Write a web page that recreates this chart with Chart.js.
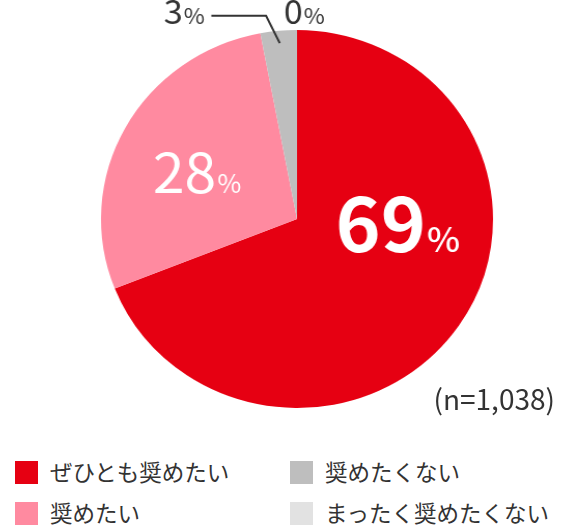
<!DOCTYPE html>
<html lang="ja">
<head>
<meta charset="utf-8">
<title>推奨意向</title>
<script src="https://cdn.jsdelivr.net/npm/chart.js@4/dist/chart.umd.min.js"></script>
<style>
    html, body {
        margin: 0;
        padding: 0;
        background: #fff;
        width: 570px;
        height: 526px;
        overflow: hidden;
        font-family: "Noto Sans CJK JP", "Noto Sans", sans-serif;
        color: #333;
    }
    #wrap {
        position: absolute;
        left: 0;
        top: 0;
        width: 570px;
        height: 440px;
        /* reference pie is slightly wider than tall */
        transform: scaleX(1.037);
        transform-origin: 297px 0;
    }
    #note {
        position: absolute;
        right: 15px;
        top: 377px;
        font-size: 28px;
        line-height: 42px;
        color: #333;
    }
    .legend-item {
        position: absolute;
        height: 23px;
        font-size: 22.5px;
        line-height: 23px;
        white-space: nowrap;
        color: #333;
    }
    .legend-item .box {
        position: absolute;
        left: 0;
        top: 0;
        width: 23px;
        height: 23px;
    }
    .legend-item .label {
        position: absolute;
        left: 35px;
        top: -1px;
    }
</style>
</head>
<body>
<div id="wrap"><canvas id="pieChart"></canvas></div>
<div id="note"></div>
<div id="legend"></div>

<script>
// ---- data ----
const categories = ['ぜひとも奨めたい', '奨めたい', '奨めたくない', 'まったく奨めたくない'];
const shares = [69, 28, 3, 0];
const sliceColors = ['#e60012', '#ff8aa0', '#bebebe', '#e2e2e2'];
const sampleNote = '(n=1,038)';

// legend layout: order in the 2x2 grid (column-major)
const legendSlots = [
    { left: 15, top: 461 },
    { left: 15, top: 502 },
    { left: 290, top: 461 },
    { left: 290, top: 502 }
];

// value label styles, offsets as fractions of the radius from the centre
const labelStyles = [
    { dx: 0.196, dy: 0.175, num: 'bold 74px', pct: '500 34px', color: '#fff' },
    { dx: -0.735, dy: -0.138, num: '400 55px', pct: '400 25px', color: '#fff' },
    { dx: -0.68, dy: -1.03, num: '400 33px', pct: '400 22px', color: '#333' },
    { dx: -0.068, dy: -1.03, num: '400 33px', pct: '400 22px', color: '#333' }
];

const FONT = '"Noto Sans CJK JP", "Noto Sans", sans-serif';

// Draw number + smaller "%" sharing a baseline
function drawValue(ctx, value, x, y, style) {
    ctx.save();
    ctx.fillStyle = style.color;
    ctx.textBaseline = 'alphabetic';
    ctx.textAlign = 'left';
    ctx.font = style.num + ' ' + FONT;
    const txt = String(value);
    ctx.fillText(txt, x, y);
    const w = ctx.measureText(txt).width;
    ctx.font = style.pct + ' ' + FONT;
    ctx.fillText('%', x + w + 1, y);
    ctx.restore();
}

const valueLabels = {
    id: 'valueLabels',
    afterDatasetsDraw(chart) {
        const ctx = chart.ctx;
        const meta = chart.getDatasetMeta(0);
        const first = meta.data[0];
        const cx = first.x;
        const cy = first.y;
        const r = first.outerRadius;

        shares.forEach((v, i) => {
            const s = labelStyles[i];
            drawValue(ctx, v, cx + s.dx * r, cy + s.dy * r, s);
        });

        // leader line from the small grey slice to its label
        const arc = meta.data[2];
        const mid = (arc.startAngle + arc.endAngle) / 2;
        const ex = cx + Math.cos(mid) * r * 0.935;
        const ey = cy + Math.sin(mid) * r * 0.935;
        const ly = cy - r * 1.075;
        ctx.save();
        ctx.strokeStyle = '#333';
        ctx.lineWidth = 2;
        ctx.beginPath();
        ctx.moveTo(cx - r * 0.437, ly);
        ctx.lineTo(cx - r * 0.158, ly);
        ctx.lineTo(ex, ey);
        ctx.stroke();
        ctx.restore();
    }
};

new Chart(document.getElementById('pieChart'), {
    type: 'pie',
    data: {
        labels: categories,
        datasets: [{
            data: shares,
            backgroundColor: sliceColors,
            borderWidth: 0
        }]
    },
    options: {
        responsive: true,
        maintainAspectRatio: false,
        animation: false,
        layout: {
            padding: { top: 30, bottom: 32, left: 24, right: 0 }
        },
        plugins: {
            legend: { display: false },
            tooltip: { enabled: false }
        }
    },
    plugins: [valueLabels]
});

// HTML legend + sample size
document.getElementById('note').textContent = sampleNote;
const legendEl = document.getElementById('legend');
categories.forEach((name, i) => {
    const item = document.createElement('div');
    item.className = 'legend-item';
    item.style.left = legendSlots[i].left + 'px';
    item.style.top = legendSlots[i].top + 'px';
    item.innerHTML = '<span class="box" style="background:' + sliceColors[i] + '"></span>' +
        '<span class="label">' + name + '</span>';
    legendEl.appendChild(item);
});
</script>
</body>
</html>
